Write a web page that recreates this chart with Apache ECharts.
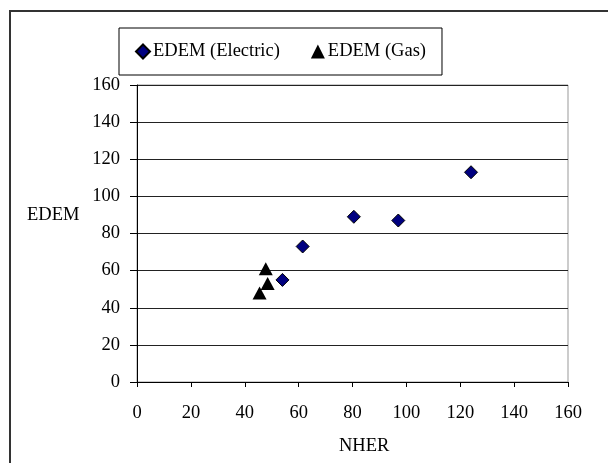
<!DOCTYPE html>
<html>
<head>
<meta charset="utf-8">
<script src="https://cdn.jsdelivr.net/npm/echarts@6/dist/echarts.min.js"></script>
<style>html,body{margin:0;padding:0;background:#fff;}#c{width:608px;height:463px;}</style>
</head>
<body>
<div id="c"></div>
<script>
const electricNHER = [54, 61.5, 80.5, 97, 124];
const electricEDEM = [55, 73, 89, 87, 113];
const gasNHER = [47.8, 48.5, 45.5];
const gasEDEM = [61, 53, 48];
const xTicks = [0, 20, 40, 60, 80, 100, 120, 140, 160];
const yTicks = [0, 20, 40, 60, 80, 100, 120, 140, 160];

const FONT = '"Liberation Serif", "Times New Roman", serif';
const chart = echarts.init(document.getElementById('c'), null, {renderer: 'canvas'});
const zip = (a, b) => a.map((v, i) => [v, b[i]]);
chart.setOption({
  backgroundColor: '#fff',
  animation: false,
  textStyle: {fontFamily: FONT},
  graphic: [
    {type: 'rect', shape: {x: 10, y: 11, width: 620, height: 480}, style: {fill: 'none', stroke: '#333', lineWidth: 2}, silent: true},
    {type: 'text', left: 27, top: 206, style: {text: 'EDEM', fontFamily: FONT, fontSize: 18.5, fill: '#000'}},
    {type: 'text', left: 339, top: 437, style: {text: 'NHER', fontFamily: FONT, fontSize: 18.5, fill: '#000'}}
  ],
  legend: {
    left: 119, top: 28,
    padding: [14, 16, 14, 16],
    itemGap: 31, itemWidth: 14, itemHeight: 14,
    borderColor: '#000', borderWidth: 1,
    textStyle: {fontFamily: FONT, fontSize: 18.5, color: '#000', padding: [0, 0, 0, -2]},
    data: ['EDEM (Electric)', 'EDEM (Gas)']
  },
  grid: {left: 137, top: 85, right: 40, bottom: 81, show: true, borderColor: '#999', borderWidth: 1},
  xAxis: {
    type: 'value', min: 0, max: 160, interval: 20,
    axisLine: {show: true, lineStyle: {color: '#000', width: 1}},
    axisTick: {show: true, length: 5, lineStyle: {color: '#000'}},
    splitLine: {show: false},
    axisLabel: {fontFamily: FONT, fontSize: 18.5, color: '#000', margin: 22,
      formatter: v => xTicks.includes(v) ? String(v) : ''}
  },
  yAxis: {
    type: 'value', min: 0, max: 160, interval: 20,
    axisLine: {show: true, lineStyle: {color: '#000', width: 1}},
    axisTick: {show: true, length: 7, lineStyle: {color: '#000'}},
    splitLine: {show: true, lineStyle: {color: '#222', width: 1}},
    axisLabel: {fontFamily: FONT, fontSize: 18.5, color: '#000', margin: 17,
      formatter: v => yTicks.includes(v) ? String(v) : ''}
  },
  series: [
    {name: 'EDEM (Electric)', type: 'scatter', symbol: 'diamond', symbolSize: 13,
      itemStyle: {color: '#000080', borderColor: '#000', borderWidth: 1, opacity: 1},
      data: zip(electricNHER, electricEDEM)},
    {name: 'EDEM (Gas)', type: 'scatter', symbol: 'triangle', symbolSize: [14, 13],
      itemStyle: {color: '#000', borderColor: '#000', borderWidth: 0, opacity: 1},
      data: zip(gasNHER, gasEDEM)}
  ]
});
</script>
</body>
</html>
